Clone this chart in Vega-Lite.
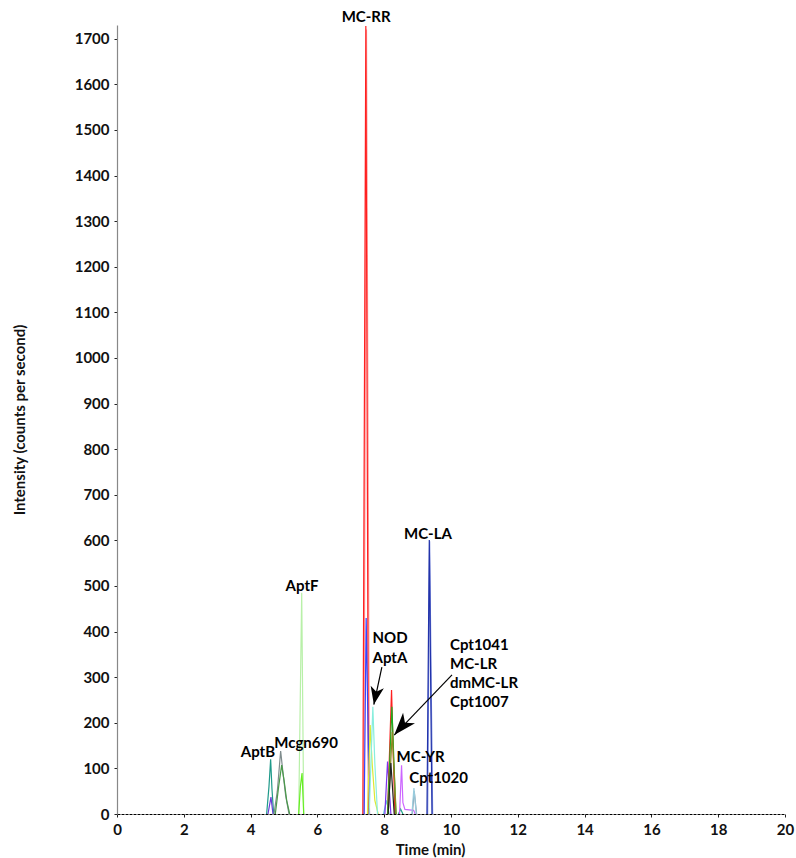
{
  "$schema": "https://vega.github.io/schema/vega-lite/v6.json",
  "width": 668,
  "height": 789,
  "autosize": {"type": "none"},
  "padding": {"left": 117, "top": 25, "right": 11, "bottom": 44},
  "background": "white",
  "config": {
    "view": {"stroke": null},
    "font": "Lato",
    "axis": {"labelFont": "Lato", "labelFontWeight": "bold", "labelFontSize": 15, "labelColor": "#111", "titleFont": "Lato", "titleFontWeight": "bold", "titleFontSize": 15, "titleColor": "#111", "grid": false, "tickColor": "#222"}
  },
  "datasets": {
    "traces": [
      {"s": "AptB_teal", "t": 4.48, "v": 0}, {"s": "AptB_teal", "t": 4.55, "v": 60}, {"s": "AptB_teal", "t": 4.60, "v": 120}, {"s": "AptB_teal", "t": 4.64, "v": 55}, {"s": "AptB_teal", "t": 4.69, "v": 0},
      {"s": "AptB_purple", "t": 4.52, "v": 0}, {"s": "AptB_purple", "t": 4.61, "v": 37}, {"s": "AptB_purple", "t": 4.67, "v": 0},
      {"s": "Mcgn_grey", "t": 4.70, "v": 0}, {"s": "Mcgn_grey", "t": 4.80, "v": 50}, {"s": "Mcgn_grey", "t": 4.90, "v": 138}, {"s": "Mcgn_grey", "t": 4.97, "v": 90}, {"s": "Mcgn_grey", "t": 5.05, "v": 40}, {"s": "Mcgn_grey", "t": 5.15, "v": 0},
      {"s": "Mcgn_green", "t": 4.74, "v": 0}, {"s": "Mcgn_green", "t": 4.84, "v": 60}, {"s": "Mcgn_green", "t": 4.93, "v": 107}, {"s": "Mcgn_green", "t": 5.00, "v": 75}, {"s": "Mcgn_green", "t": 5.08, "v": 30}, {"s": "Mcgn_green", "t": 5.17, "v": 0},
      {"s": "AptF_light", "t": 5.44, "v": 0}, {"s": "AptF_light", "t": 5.53, "v": 485}, {"s": "AptF_light", "t": 5.59, "v": 0},
      {"s": "AptF_green", "t": 5.44, "v": 0}, {"s": "AptF_green", "t": 5.49, "v": 60}, {"s": "AptF_green", "t": 5.54, "v": 90}, {"s": "AptF_green", "t": 5.59, "v": 0},
      {"s": "RR_pink", "t": 7.39, "v": 0}, {"s": "RR_pink", "t": 7.47, "v": 1720}, {"s": "RR_pink", "t": 7.56, "v": 0},
      {"s": "RR_red", "t": 7.36, "v": 0}, {"s": "RR_red", "t": 7.45, "v": 1728}, {"s": "RR_red", "t": 7.53, "v": 0},
      {"s": "blue747", "t": 7.40, "v": 0}, {"s": "blue747", "t": 7.46, "v": 430}, {"s": "blue747", "t": 7.56, "v": 0},
      {"s": "AptA_yellow", "t": 7.50, "v": 0}, {"s": "AptA_yellow", "t": 7.58, "v": 195}, {"s": "AptA_yellow", "t": 7.64, "v": 110}, {"s": "AptA_yellow", "t": 7.72, "v": 30}, {"s": "AptA_yellow", "t": 7.82, "v": 0},
      {"s": "NOD_cyan", "t": 7.55, "v": 0}, {"s": "NOD_cyan", "t": 7.66, "v": 235}, {"s": "NOD_cyan", "t": 7.72, "v": 110}, {"s": "NOD_cyan", "t": 7.80, "v": 0},
      {"s": "cyan808", "t": 7.98, "v": 0}, {"s": "cyan808", "t": 8.07, "v": 30}, {"s": "cyan808", "t": 8.15, "v": 0},
      {"s": "purple810", "t": 8.02, "v": 0}, {"s": "purple810", "t": 8.10, "v": 115}, {"s": "purple810", "t": 8.20, "v": 0},
      {"s": "LR_red", "t": 8.10, "v": 0}, {"s": "LR_red", "t": 8.22, "v": 272}, {"s": "LR_red", "t": 8.32, "v": 0},
      {"s": "LR_green", "t": 8.10, "v": 0}, {"s": "LR_green", "t": 8.23, "v": 235}, {"s": "LR_green", "t": 8.35, "v": 0},
      {"s": "olive", "t": 8.12, "v": 0}, {"s": "olive", "t": 8.24, "v": 180}, {"s": "olive", "t": 8.36, "v": 0},
      {"s": "black820", "t": 8.12, "v": 0}, {"s": "black820", "t": 8.20, "v": 112}, {"s": "black820", "t": 8.30, "v": 0},
      {"s": "teal849", "t": 8.43, "v": 0}, {"s": "teal849", "t": 8.49, "v": 11}, {"s": "teal849", "t": 8.56, "v": 0},
      {"s": "YR_magenta", "t": 8.46, "v": 0}, {"s": "YR_magenta", "t": 8.52, "v": 107}, {"s": "YR_magenta", "t": 8.56, "v": 25}, {"s": "YR_magenta", "t": 8.62, "v": 10}, {"s": "YR_magenta", "t": 8.88, "v": 8}, {"s": "YR_magenta", "t": 8.93, "v": 0},
      {"s": "Cpt1020_grey", "t": 8.84, "v": 0}, {"s": "Cpt1020_grey", "t": 8.90, "v": 50}, {"s": "Cpt1020_grey", "t": 8.97, "v": 0},
      {"s": "Cpt1020_lb", "t": 8.83, "v": 0}, {"s": "Cpt1020_lb", "t": 8.89, "v": 57}, {"s": "Cpt1020_lb", "t": 8.96, "v": 0},
      {"s": "LA_light", "t": 9.30, "v": 0}, {"s": "LA_light", "t": 9.36, "v": 598}, {"s": "LA_light", "t": 9.45, "v": 0},
      {"s": "LA_dark", "t": 9.28, "v": 0}, {"s": "LA_dark", "t": 9.35, "v": 601}, {"s": "LA_dark", "t": 9.43, "v": 0}
    ],
    "centerLabels": [
      {"label": "MC-RR", "t": 7.46, "v": 1747},
      {"label": "AptF", "t": 5.54, "v": 500},
      {"label": "AptB", "t": 4.22, "v": 137},
      {"label": "Mcgn690", "t": 5.66, "v": 156},
      {"label": "MC-LA", "t": 9.31, "v": 614}
    ],
    "leftLabels": [
      {"label": "NOD", "t": 7.65, "v": 386},
      {"label": "AptA", "t": 7.65, "v": 341},
      {"label": "Cpt1041", "t": 9.97, "v": 370},
      {"label": "MC-LR", "t": 9.97, "v": 329},
      {"label": "dmMC-LR", "t": 9.97, "v": 288},
      {"label": "Cpt1007", "t": 9.97, "v": 246},
      {"label": "MC-YR", "t": 8.37, "v": 126},
      {"label": "Cpt1020", "t": 8.75, "v": 79}
    ],
    "arrows": [
      {"arrow": "NOD", "t": 7.93, "v": 322, "t2": 7.69, "v2": 240},
      {"arrow": "Cpt", "t": 10.03, "v": 305, "t2": 8.30, "v2": 173}
    ]
  },
  "layer": [
    {
      "data": {"name": "traces"},
      "mark": {"type": "line", "strokeWidth": 1.2, "clip": true},
      "encoding": {
        "x": {"field": "t", "type": "quantitative", "scale": {"domain": [0, 20], "nice": false},
          "axis": {"title": "Time (min)", "values": [0,1,2,3,4,5,6,7,8,9,10,11,12,13,14,15,16,17,18,19,20], "labelExpr": "datum.value % 2 === 0 ? datum.label : ''", "domainColor": "#000", "domainDash": [3, 1], "domainWidth": 1, "tickSize": 3, "labelPadding": 5, "titlePadding": 5, "titleX": 313, "labelFlush": false}},
        "y": {"field": "v", "type": "quantitative", "scale": {"domain": [0, 1730], "nice": false},
          "axis": {"title": "Intensity (counts per second)", "values": [0,50,100,150,200,250,300,350,400,450,500,550,600,650,700,750,800,850,900,950,1000,1050,1100,1150,1200,1250,1300,1350,1400,1450,1500,1550,1600,1650,1700], "labelExpr": "datum.value % 100 === 0 ? datum.label : ''", "format": "d", "domainColor": "#888", "domainWidth": 1.2, "tickSize": {"condition": {"test": "datum.value % 100 === 0", "value": 3}, "value": 2}, "labelPadding": 5, "titlePadding": 47}},
        "color": {"field": "s", "type": "nominal", "legend": null,
          "scale": {
            "domain": ["AptB_teal", "AptB_purple", "Mcgn_grey", "Mcgn_green", "AptF_light", "AptF_green", "RR_pink", "RR_red", "blue747", "AptA_yellow", "NOD_cyan", "cyan808", "purple810", "LR_red", "LR_green", "olive", "black820", "teal849", "YR_magenta", "Cpt1020_grey", "Cpt1020_lb", "LA_light", "LA_dark"],
            "range": ["#1f9a8a", "#6a3dd6", "#7f8c8d", "#4a9a4a", "#b8f0a8", "#66ee22", "#ff9a9a", "#ff2020", "#3344ff", "#dde833", "#88eedd", "#66ccdd", "#7a33ee", "#ff2020", "#22aa22", "#8a8a20", "#222222", "#22aa88", "#cc66ff", "#8899aa", "#99ccdd", "#7788dd", "#2233aa"]
          }}
      }
    },
    {
      "data": {"name": "arrows"},
      "mark": {"type": "rule", "color": "#000", "strokeWidth": 1.2},
      "encoding": {
        "x": {"field": "t", "type": "quantitative"},
        "y": {"field": "v", "type": "quantitative"},
        "x2": {"field": "t2"},
        "y2": {"field": "v2"}
      }
    },
    {
      "data": {"name": "arrows"},
      "transform": [{"filter": "datum.arrow === 'NOD'"}],
      "mark": {"type": "point", "shape": "M0,0 L0.75,2 L0,1.45 L-0.75,2 Z", "filled": true, "color": "#000", "opacity": 1, "size": 320, "angle": 191},
      "encoding": {
        "x": {"field": "t2", "type": "quantitative"},
        "y": {"field": "v2", "type": "quantitative"}
      }
    },
    {
      "data": {"name": "arrows"},
      "transform": [{"filter": "datum.arrow === 'Cpt'"}],
      "mark": {"type": "point", "shape": "M0,0 L0.7,2 L0,1.45 L-0.7,2 Z", "filled": true, "color": "#000", "opacity": 1, "size": 510, "angle": 221},
      "encoding": {
        "x": {"field": "t2", "type": "quantitative"},
        "y": {"field": "v2", "type": "quantitative"}
      }
    },
    {
      "data": {"name": "centerLabels"},
      "mark": {"type": "text", "align": "center", "baseline": "middle", "font": "Lato", "fontWeight": "bold", "fontSize": 15, "color": "#000"},
      "encoding": {
        "x": {"field": "t", "type": "quantitative"},
        "y": {"field": "v", "type": "quantitative"},
        "text": {"field": "label"}
      }
    },
    {
      "data": {"name": "leftLabels"},
      "mark": {"type": "text", "align": "left", "baseline": "middle", "font": "Lato", "fontWeight": "bold", "fontSize": 15, "color": "#000"},
      "encoding": {
        "x": {"field": "t", "type": "quantitative"},
        "y": {"field": "v", "type": "quantitative"},
        "text": {"field": "label"}
      }
    }
  ]
}
